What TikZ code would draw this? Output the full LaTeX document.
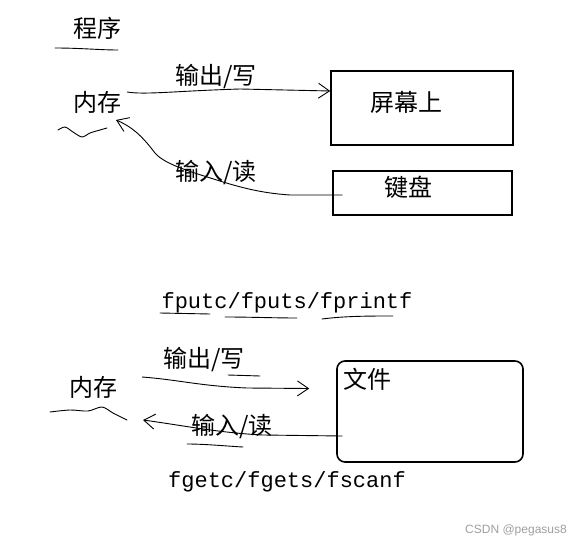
\documentclass[tikz,border=0pt]{standalone}
\usepackage{fontspec}
\newfontfamily\cjk{Noto Sans CJK SC}
\setmonofont{Liberation Mono}
\newfontfamily\wmfont{Liberation Sans}
\usepackage{tikz}
\usetikzlibrary{arrows.meta, positioning, calc}

\begin{document}
\begin{tikzpicture}[
  x=1pt, y=-1pt,
  lbl/.style={inner sep=0pt, font=\cjk\fontsize{24}{26}\selectfont},
  fname/.style={inner sep=0pt, font=\ttfamily\fontsize{22}{24}\selectfont},
  devbox/.style={draw, line width=1.6pt, inner sep=0pt},
  pen/.style={line width=0.9pt, line cap=round, line join=round},
  flow/.style={pen, -{Straight Barb[length=11pt, width=15pt, line width=0.9pt]}},
  wmark/.style={font=\wmfont\fontsize{12}{14}\selectfont, text=gray!75, inner sep=0pt}
]
\useasboundingbox (0,0) rectangle (580,548);

%% ── Screen / keyboard ──
\node[lbl] (prog) at (97,28) {程序};
\node[lbl] (memA) at (97,102) {内存};
\node[devbox, minimum width=182pt, minimum height=74pt] (screen) at (422,108) {};
\node[lbl] (screenT) at (406,102) {屏幕上};
\node[devbox, minimum width=179pt, minimum height=44pt] (kbd) at (422.5,193) {};
\node[lbl] (kbdT) at (408,187) {键盘};
\node[lbl] (outA) at (216,77) {输出/写};
\node[lbl] (inA)  at (216,173) {输入/读};

\draw[pen] (55,48) .. controls (80,48) and (100,50) .. (118,50);
\draw[pen] plot[smooth] coordinates {(58,130) (65,127) (73,132) (82,137) (90,133) (100,130) (107,128)};

\draw[flow] ([shift={(6,-10)}]memA.east)
  .. controls (145,95) and (175,91) .. (240,89) -- ([shift={(0,-17)}]screen.west);
\draw[flow] ([shift={(10,2)}]kbd.west) -- (290,195)
  .. controls (260,193) and (240,187) .. (223,182)
  .. controls (195,173) and (165,165) .. (155,153)
  .. controls (145,140) and (135,128) .. ([shift={(19,18)}]memA.center);

%% ── File ──
\node[fname] (putF) at (287,303) {fputc/fputs/fprintf};
\draw[pen] (160,313) -- (210,314);
\draw[pen] (225,317) .. controls (250,317) and (275,318) .. (297,318);
\draw[pen] (322,319) .. controls (345,316) and (370,316) .. (393,316);

\node[lbl] (memB) at (93,387) {内存};
\node[devbox, rounded corners=8pt, minimum width=186pt, minimum height=101pt] (file) at (430,411.5) {};
\node[lbl] (fileT) at (367,379) {文件};
\node[lbl] (outB) at (204,360) {输出/写};
\node[lbl] (inB)  at (232,427) {输入/读};

\draw[pen] (228,375) -- (260,376);
\draw[pen] (187,444) .. controls (205,444) and (225,446) .. (243,447);
\draw[pen] plot[smooth] coordinates {(50,412) (70,410) (88,411) (102,407) (113,413) (127,420)};

\draw[flow] ([shift={(25,-10)}]memB.east)
  .. controls (180,380) and (200,386) .. (247,388) -- ([shift={(-27,-23)}]file.west);
\draw[flow] ([shift={(6,24.5)}]file.west) -- (263,435)
  .. controls (220,433) and (180,425) .. ([shift={(50,33)}]memB.center);

\node[fname] (getF) at (287,482) {fgetc/fgets/fscanf};

\node[wmark, anchor=east] (mark) at (567,530) {CSDN @pegasus8};
\end{tikzpicture}
\end{document}
